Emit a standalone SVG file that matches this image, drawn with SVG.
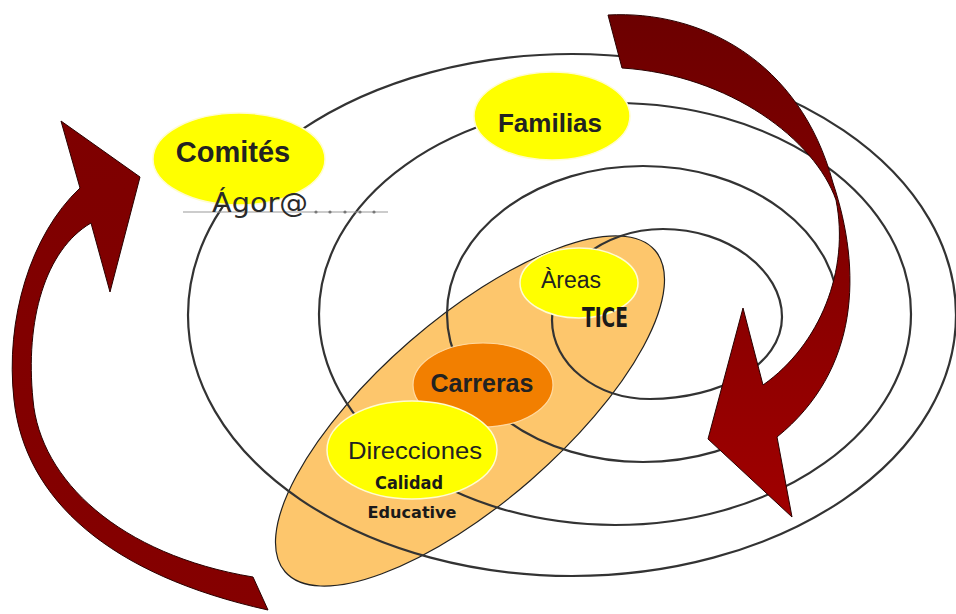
<svg xmlns="http://www.w3.org/2000/svg" width="956" height="614" viewBox="0 0 956 614">
<defs>
<linearGradient id="gr" gradientUnits="userSpaceOnUse" x1="0" y1="15" x2="0" y2="517">
<stop offset="0" stop-color="#6C0000"/><stop offset="1" stop-color="#A00000"/>
</linearGradient>
<linearGradient id="gl" gradientUnits="userSpaceOnUse" x1="0" y1="121" x2="0" y2="610">
<stop offset="0" stop-color="#7E0000"/><stop offset="1" stop-color="#850000"/>
</linearGradient>
<style>
.ring{fill:none;stroke:#333;stroke-width:2.2}
.yel{fill:#FFFF00;stroke:#FFFCD0;stroke-width:1.5}
.lbl{font-family:"Liberation Sans",Arial,sans-serif;fill:#222;text-anchor:middle}
.b{font-weight:bold}
.arrow{stroke:#2a0000;stroke-width:1}
</style>
</defs>
<rect width="956" height="614" fill="#fff"/>

<g id="group-orange">
<ellipse cx="470" cy="411" rx="245" ry="92" transform="rotate(-41 470 411)" fill="#FDC66C" stroke="#222" stroke-width="1.2"/>
</g>

<g id="rings">
<ellipse class="ring" cx="572" cy="315" rx="384" ry="261"/>
<ellipse class="ring" cx="615" cy="314" rx="296" ry="211"/>
<ellipse class="ring" cx="643" cy="314" rx="196" ry="148"/>
<path class="ring" d="M552,320 C552,270 602,229 663,229 C728,229 782,270 782,317 C782,365 720,399 650,399 C596,399 552,364 552,320 Z"/>
</g>

<g id="node-comites">
<ellipse class="yel" cx="239" cy="159" rx="86" ry="46"/>
<text class="lbl b" x="233" y="162" font-size="29">Comités</text>
<line x1="183" y1="212" x2="388" y2="212" stroke="#999" stroke-width="1.2"/>
<g fill="#777"><circle cx="316" cy="212" r="1.6"/><circle cx="330" cy="212" r="1.6"/><circle cx="345" cy="212" r="1.6"/><circle cx="360" cy="212" r="1.6"/><circle cx="374" cy="212" r="1.6"/></g>
<text x="260" y="212" font-family="DejaVu Sans,sans-serif" font-size="27" fill="#2a2a2a" text-anchor="middle" textLength="96" lengthAdjust="spacingAndGlyphs">Ágor@</text>
</g>

<g id="node-familias">
<ellipse class="yel" cx="552" cy="116" rx="78" ry="44"/>
<text class="lbl b" x="550" y="132" font-size="26">Familias</text>
</g>

<g id="node-areas">
<ellipse class="yel" cx="579" cy="283" rx="59" ry="35"/>
<text class="lbl" x="571" y="288" font-size="23" fill="#2b2b14">Àreas</text>
<text x="605" y="327" font-family="DejaVu Sans Condensed,DejaVu Sans,sans-serif" font-weight="bold" font-size="26" fill="#1a1a1a" text-anchor="middle" textLength="46" lengthAdjust="spacingAndGlyphs">TICE</text>
</g>

<g id="node-carreras">
<ellipse cx="483" cy="385" rx="70" ry="42" fill="#F27F00" stroke="#FFD9A0" stroke-width="1.2"/>
<text class="lbl b" x="482" y="392" font-size="25">Carreras</text>
</g>

<g id="node-direcciones">
<ellipse class="yel" cx="412" cy="450" rx="85" ry="49"/>
<text class="lbl" x="415" y="459" font-size="24" textLength="134" lengthAdjust="spacingAndGlyphs">Direcciones</text>
<text x="409" y="489" font-family="DejaVu Sans,sans-serif" font-weight="bold" font-size="17" fill="#1a1a1a" text-anchor="middle" textLength="68" lengthAdjust="spacingAndGlyphs">Calidad</text>
<text x="412" y="518" font-family="DejaVu Sans,sans-serif" font-weight="bold" font-size="16" fill="#1a1a1a" text-anchor="middle" textLength="89" lengthAdjust="spacingAndGlyphs">Educative</text>
</g>

<g id="connectors">
<path class="arrow" fill="url(#gr)" d="M608,15 C700,10 800,60 833,183 C862,270 860,370 777,437 L792,517 L708,439 L743,308 L763,385 C820,345 850,270 836,200 C815,140 730,75 622,68 Z"/>
<path class="arrow" fill="url(#gl)" d="M61,121 L140,177 L110,292 L91,223 C45,250 25,320 33,400 C40,480 120,555 253,577 L268,610 C110,575 25,500 14,400 C5,320 30,235 80,188 Z"/>
</g>
</svg>
